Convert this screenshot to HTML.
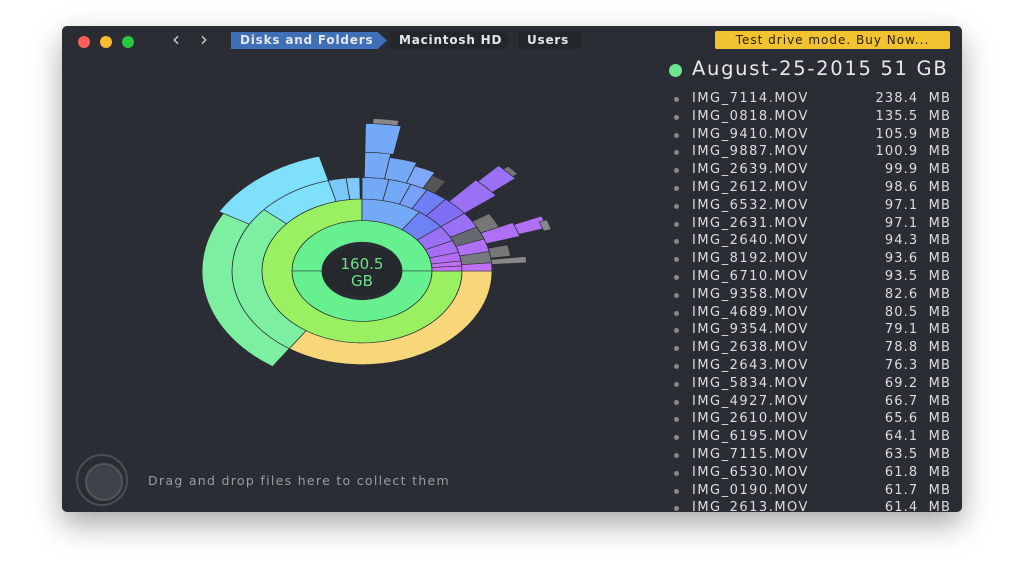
<!DOCTYPE html>
<html><head><meta charset="utf-8"><style>
body{margin:0;width:1024px;height:576px;background:#fff;overflow:hidden;font-family:"DejaVu Sans","Liberation Sans",sans-serif;position:relative}
#win{position:absolute;left:62px;top:26px;width:900px;height:486px;background:#2a2d33;border-radius:5px;box-shadow:0 12px 30px rgba(0,0,0,.35);overflow:hidden}
.dot{position:absolute;top:10px;width:12px;height:12px;border-radius:50%}
.crumb{position:absolute;top:6px;height:17px;font-size:12px;font-weight:bold;color:#e6e6e6;line-height:17px;padding-left:9px;letter-spacing:.8px}
#list{position:absolute;left:610px;top:64px;width:278px}
.row{position:relative;height:17.8px;font-size:13px;color:#ddd;line-height:17.8px;letter-spacing:1.5px}
.row b{position:absolute;left:2px;top:7px;width:5px;height:5px;border-radius:50%;background:#888}
.row .n{position:absolute;left:20px}
.row .s{position:absolute;right:-1px;white-space:pre;letter-spacing:1.1px}
</style></head><body>
<div id="win">
<div class="dot" style="left:16px;background:#fc5f57"></div>
<div class="dot" style="left:38px;background:#fdbc2e"></div>
<div class="dot" style="left:60px;background:#29c840"></div>
<div style="position:absolute;left:110px;top:1px;color:#ccc;font-size:20px">&#8249;</div>
<div style="position:absolute;left:138px;top:1px;color:#ccc;font-size:20px">&#8250;</div>
<div class="crumb" style="left:169px;width:147px;background:#3f6fb6;clip-path:polygon(0 0,94% 0,100% 50%,94% 100%,0 100%)">Disks and Folders</div>
<div class="crumb" style="left:328px;width:112px;background:#23262b;clip-path:polygon(0 0,94% 0,100% 50%,94% 100%,0 100%)">Macintosh HD</div>
<div class="crumb" style="left:456px;width:54px;background:#23262b">Users</div>
<div style="position:absolute;left:653px;top:5px;width:235px;height:18px;background:#f2c230;border-radius:2px;color:#2a2200;font-size:12px;text-align:center;line-height:18px;letter-spacing:1px">Test drive mode. Buy Now...</div>
<div style="position:absolute;left:607px;top:38px;width:13px;height:13px;border-radius:50%;background:#6de58e"></div>
<div style="position:absolute;left:630px;top:31px;color:#e8e8e8;font-size:19.5px;letter-spacing:1.7px">August-25-2015 51 GB</div>
<div id="list"></div>
<div style="position:absolute;left:14px;top:428px;width:52px;height:52px;border-radius:50%;border:2px solid #4a4e56;box-sizing:border-box"></div>
<div style="position:absolute;left:23px;top:437px;width:34px;height:34px;border-radius:50%;background:#3e434b;border:2px solid #555"></div>
<div style="position:absolute;left:86px;top:447px;color:#9a9ca0;font-size:12.5px;letter-spacing:1.3px">Drag and drop files here to collect them</div>
</div>
<svg id="sb" width="1024" height="576" style="position:absolute;left:0;top:0">
<g id="g" transform="translate(362,271) scale(1,0.72)"></g>
<ellipse cx="362" cy="271" rx="40" ry="25" fill="#25282d"/>
<text x="362" y="269" fill="#6ee08a" font-size="15" text-anchor="middle" font-family="DejaVu Sans">160.5</text>
<text x="362" y="286" fill="#6ee08a" font-size="15" text-anchor="middle" font-family="DejaVu Sans">GB</text>
</svg>
<script>
var g=document.getElementById('g');
function P(r,a){a=a*Math.PI/180;return (r*Math.cos(a)).toFixed(2)+','+(-r*Math.sin(a)).toFixed(2);}
function A(r0,r1,a0,a1,c){var l=(a1-a0)>180?1:0;
var d='M'+P(r0,a0)+'L'+P(r1,a0)+'A'+r1+','+r1+' 0 '+l+' 0 '+P(r1,a1)+'L'+P(r0,a1)+'A'+r0+','+r0+' 0 '+l+' 1 '+P(r0,a0)+'Z';
var e=document.createElementNS('http://www.w3.org/2000/svg','path');e.setAttribute('d',d);e.setAttribute('fill',c);e.setAttribute('stroke','#2a2d33');e.setAttribute('stroke-width','0.8');g.appendChild(e);}
A(40,70,0,180,'#66f08f');A(40,70,180,360,'#66f08f');
A(70,100,90,360,'#99f060');
A(70,100,55,90,'#74a9f8');A(70,100,38,55,'#6f82f5');A(70,100,25,38,'#9a70f5');A(70,100,15,25,'#a66ef5');A(70,100,8,15,'#b56cf5');A(70,100,4,8,'#c070f5');A(70,100,0,4,'#c070f5');
A(100,130,-124,0,'#f8d77a');A(100,130,139,236,'#7cf0a0');A(100,130,105,139,'#7ee0fa');A(100,130,97,105,'#79c8f8');A(100,130,91,97,'#80c8f8');
A(100,130,78,90,'#74a9f8');A(100,130,68,78,'#74a9f8');A(100,130,60,68,'#78a0f8');A(100,130,50,60,'#6f7ff5');A(100,130,38,50,'#7f6ff5');A(100,130,28,38,'#9a70f5');A(100,130,20,28,'#666a70');A(100,130,12,20,'#b070f5');A(100,130,5,12,'#777b80');A(100,130,0,5,'#c070f5');
A(130,160,150,236,'#7cf0a0');A(130,165,105,150,'#7ee0fa');
A(130,165,80,89,'#74a9f8');A(130,160,70,80,'#74a9f8');A(130,155,62,70,'#80a8f8');A(130,150,56,62,'#555');
A(165,205,79,89,'#74a9f8');A(205,212,80,87,'#888');
A(130,170,38,48,'#9a70f5');A(170,200,40,47,'#9a70f5');A(200,206,41,45,'#777');
A(130,150,24,32,'#777');A(130,165,17,24,'#b070f5');A(165,195,18,23,'#b070f5');A(190,198,17,21,'#888');
A(130,150,8,14,'#777');A(130,165,4,7,'#888');
var d=[["7114","238.4"],["0818","135.5"],["9410","105.9"],["9887","100.9"],["2639","99.9"],["2612","98.6"],["6532","97.1"],["2631","97.1"],["2640","94.3"],["8192","93.6"],["6710","93.5"],["9358","82.6"],["4689","80.5"],["9354","79.1"],["2638","78.8"],["2643","76.3"],["5834","69.2"],["4927","66.7"],["2610","65.6"],["6195","64.1"],["7115","63.5"],["6530","61.8"],["0190","61.7"],["2613","61.4"]];
var h='';d.forEach(function(x){h+='<div class="row"><b></b><span class="n">IMG_'+x[0]+'.MOV</span><span class="s">'+x[1]+'  MB</span></div>';});
document.getElementById('list').innerHTML=h;
</script>
</body></html>
